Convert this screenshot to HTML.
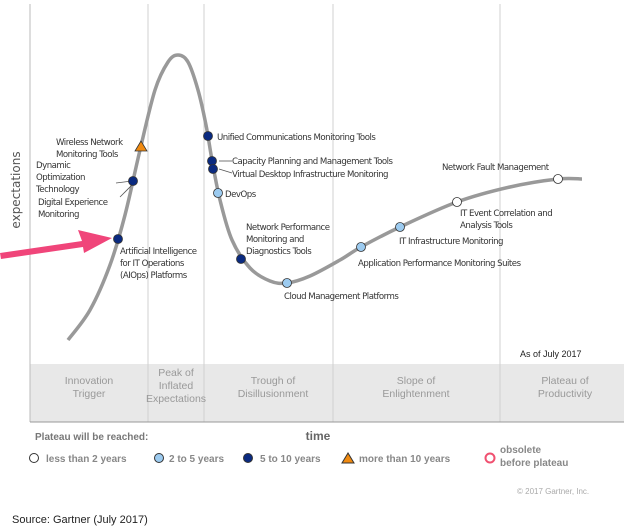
<!DOCTYPE html>
<html><head><meta charset="utf-8"><style>
body{margin:0;background:#fff;width:640px;height:532px;overflow:hidden;font-family:"DejaVu Sans","Liberation Sans",sans-serif}
svg{display:block}
</style></head><body>
<svg width="640" height="532" viewBox="0 0 640 532">
<g>
<rect x="30" y="364" width="594" height="58" fill="#e8e8e8"/>
</g>
<g stroke="#d0d0d0" stroke-width="1">
<line x1="148" y1="4" x2="148" y2="422"/><line x1="204" y1="4" x2="204" y2="422"/>
<line x1="333" y1="4" x2="333" y2="422"/><line x1="500" y1="4" x2="500" y2="422"/>
</g>
<line x1="30" y1="4" x2="30" y2="422" stroke="#bbb"/>
<line x1="30" y1="422" x2="624" y2="422" stroke="#999"/>
<text x="20" y="190" transform="rotate(-90 20 190)" font-size="12" fill="#555" text-anchor="middle">expectations</text>
<text x="318" y="440" font-family="Liberation Sans,sans-serif" font-size="12" font-weight="bold" fill="#666" text-anchor="middle">time</text>
<g font-family="Liberation Sans,sans-serif" font-size="10.5" fill="#999" text-anchor="middle">
<text x="89" y="384">Innovation</text><text x="89" y="397">Trigger</text>
<text x="176" y="376">Peak of</text><text x="176" y="389">Inflated</text><text x="176" y="402">Expectations</text>
<text x="273" y="384">Trough of</text><text x="273" y="397">Disillusionment</text>
<text x="416" y="384">Slope of</text><text x="416" y="397">Enlightenment</text>
<text x="565" y="384">Plateau of</text><text x="565" y="397">Productivity</text>
</g>
<text x="520" y="357" font-family="Liberation Sans,sans-serif" font-size="9" fill="#222">As of July 2017</text>
<path id="curve" fill="none" stroke="#999" stroke-width="3.5"/>
<g id="leaders" stroke="#555" stroke-width="0.8">
<line x1="116" y1="183" x2="132" y2="181"/><line x1="120" y1="197" x2="133" y2="184"/>
<line x1="219" y1="161" x2="232" y2="161"/><line x1="219" y1="169" x2="232" y2="173"/>
</g>
<g id="pts"></g>
<g font-size="8.6" letter-spacing="-0.5" fill="#333">
<text x="56" y="145">Wireless Network</text><text x="56" y="157">Monitoring Tools</text>
<text x="36" y="168">Dynamic</text><text x="36" y="180">Optimization</text><text x="36" y="192">Technology</text>
<text x="38" y="205">Digital Experience</text><text x="38" y="217">Monitoring</text>
<text x="120" y="254">Artificial Intelligence</text><text x="120" y="266">for IT Operations</text><text x="120" y="278">(AIOps) Platforms</text>
<text x="217" y="140">Unified Communications Monitoring Tools</text>
<text x="232" y="164">Capacity Planning and Management Tools</text>
<text x="232" y="177">Virtual Desktop Infrastructure Monitoring</text>
<text x="225" y="197">DevOps</text>
<text x="246" y="230">Network Performance</text><text x="246" y="242">Monitoring and</text><text x="246" y="254">Diagnostics Tools</text>
<text x="284" y="299">Cloud Management Platforms</text>
<text x="358" y="266">Application Performance Monitoring Suites</text>
<text x="399" y="244">IT Infrastructure Monitoring</text>
<text x="460" y="216">IT Event Correlation and</text><text x="460" y="228">Analysis Tools</text>
<text x="442" y="170">Network Fault Management</text>
</g>
<polygon points="0,253 82,241 78,230 112,238 84,253 83,247 1,259" fill="#f0457a"/>
<text x="35" y="440" font-family="Liberation Sans,sans-serif" font-weight="bold" font-size="10" fill="#777">Plateau will be reached:</text>
<g font-family="Liberation Sans,sans-serif" font-weight="bold" font-size="10" fill="#888">
<g><circle cx="34" cy="458" r="4.5" fill="#fff" stroke="#333"/><text x="46" y="462">less than 2 years</text></g>
<g><circle cx="159" cy="458" r="4.5" fill="#9ccbf0" stroke="#333"/><text x="169" y="462">2 to 5 years</text></g>
<g><circle cx="248" cy="458" r="4.5" fill="#0a2a80" stroke="#333"/><text x="260" y="462">5 to 10 years</text></g>
<g><polygon points="348,453 342,463 354,463" fill="#f08a10" stroke="#333"/><text x="359" y="462">more than 10 years</text></g>
<g><circle cx="490" cy="458" r="4.5" fill="#fff" stroke="#f05070" stroke-width="2"/><text x="500" y="453">obsolete</text><text x="500" y="466">before plateau</text></g>
</g>
<text x="517" y="494" font-family="Liberation Sans,sans-serif" font-size="8" fill="#aaa">© 2017 Gartner, Inc.</text>
<text x="12" y="523" font-family="Liberation Sans,sans-serif" font-size="11" fill="#222">Source: Gartner (July 2017)</text>
</svg>
<script>
// curve shape (time, expectation) in chart units
const curveT=[0,22,42,57,72,87,100,110,120,130,138,144,152,164,182,202,219,242,272,293,332,389,442,490,514];
const curveE=[10,40,85,135,200,260,288,295,288,260,225,190,150,110,82,69,67,74,90,103,123,148,163,171,171];
// technologies
const names=["AIOps Platforms","Digital Experience / Dynamic Optimization","Wireless Network Monitoring Tools","Unified Communications Monitoring Tools","Capacity Planning and Management Tools","Virtual Desktop Infrastructure Monitoring","DevOps","Network Performance Monitoring","Cloud Management Platforms","Application Performance Monitoring Suites","IT Infrastructure Monitoring","IT Event Correlation","Network Fault Management"];
const posT=[50,65,73,140,144,145,150,173,219,293,332,389,490];
const posE=[111,169,203,214,189,181,157,91,67,103,123,148,171];
const types=["5-10","5-10",">10","5-10","5-10","5-10","2-5","5-10","2-5","2-5","2-5","<2","<2"];
const X=t=>68+t, Y=e=>350-e;
const pts=curveT.map((t,i)=>[X(t),Y(curveE[i])]);
let d="M"+pts[0].join(",");
for(let i=0;i<pts.length-1;i++){const p0=pts[Math.max(0,i-1)],p1=pts[i],p2=pts[i+1],p3=pts[Math.min(pts.length-1,i+2)];
d+=` C${p1[0]+(p2[0]-p0[0])/6},${p1[1]+(p2[1]-p0[1])/6} ${p2[0]-(p3[0]-p1[0])/6},${p2[1]-(p3[1]-p1[1])/6} ${p2[0]},${p2[1]}`;}
document.getElementById('curve').setAttribute('d',d);
const g=document.getElementById('pts'),ns="http://www.w3.org/2000/svg";
const fill={"<2":"#fff","2-5":"#9ccbf0","5-10":"#0a2a80"};
names.forEach((n,i)=>{const x=X(posT[i]),y=Y(posE[i]);let el;
if(types[i]===">10"){el=document.createElementNS(ns,'polygon');el.setAttribute('points',`${x},${y-6} ${x-6},${y+4} ${x+6},${y+4}`);el.setAttribute('fill','#f08a10');}
else{el=document.createElementNS(ns,'circle');el.setAttribute('cx',x);el.setAttribute('cy',y);el.setAttribute('r',4.5);el.setAttribute('fill',fill[types[i]]);}
el.setAttribute('stroke','#333');el.setAttribute('stroke-width','0.8');


g.appendChild(el);});
</script>
</body></html>
